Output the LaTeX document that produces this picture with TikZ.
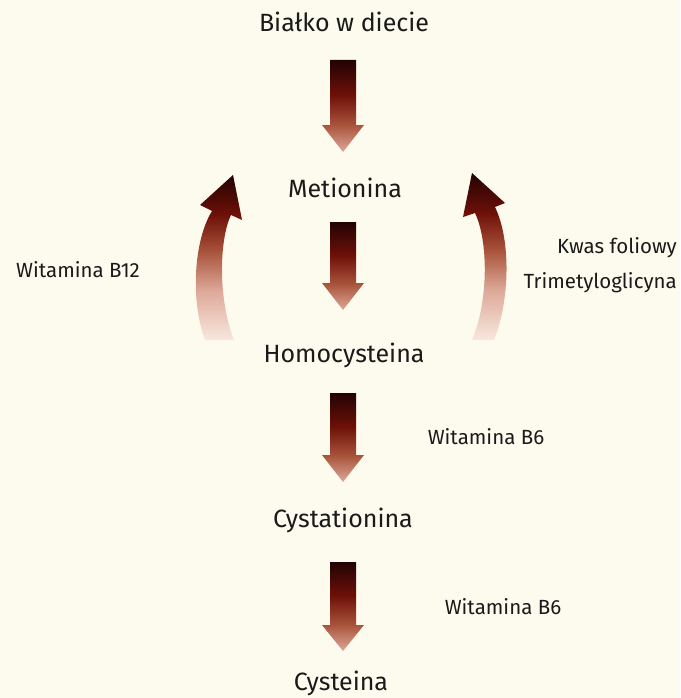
\documentclass[tikz,border=0pt]{standalone}
\usepackage{fontspec}
\setmainfont{Fira Sans}
\definecolor{bg}{HTML}{FDFBEE}
\definecolor{adark}{HTML}{220303}
\definecolor{amid}{HTML}{6E1008}
\definecolor{amid2}{HTML}{A8523A}
\definecolor{alight}{HTML}{DDA898}
\definecolor{afade}{HTML}{F8E8DE}
\definecolor{txt}{HTML}{1A1A1A}
\pgfdeclareverticalshading{arrsh}{100bp}{color(0bp)=(alight); color(25bp)=(alight); color(40bp)=(amid2); color(56bp)=(amid); color(75bp)=(adark); color(100bp)=(adark)}
\pgfdeclareverticalshading{curvsh}{100bp}{color(0bp)=(afade); color(25bp)=(afade); color(40bp)=(alight); color(52bp)=(amid2); color(63bp)=(amid); color(75bp)=(adark); color(100bp)=(adark)}
\tikzset{
  mainlbl/.style={font=\fontsize{25}{28}\selectfont, text=txt, inner sep=1pt},
  sidelbl/.style={font=\fontsize{20.5}{23}\selectfont, text=txt, inner sep=1pt},
  arrowfill/.style={shading=arrsh, draw=none},
  curvefill/.style={shading=curvsh, draw=none}
}
\newcommand\downarr[4]{%
  \shade[arrowfill] (#1-13,#2) -- (#1+13,#2) -- (#1+13,#3) -- (#1+21,#3) -- (#1,#4) -- (#1-21,#3) -- (#1-13,#3) -- cycle;}
\begin{document}
\begin{tikzpicture}[x=1pt,y=-1pt]
\fill[bg] (0,0) rectangle (680,698);
\useasboundingbox (0,0) rectangle (680,698);
% main labels
\node[mainlbl] (bialko) at (344,22) {Białko w diecie};
\node[mainlbl] (met) at (345,188) {Metionina};
\node[mainlbl] (homo) at (344,355) {Homocysteina};
\node[mainlbl] (cysta) at (343,520) {Cystationina};
\node[mainlbl] (cys) at (341,683) {Cysteina};
% side labels
\node[sidelbl] (b12) at (78,270) {Witamina B12};
\node[sidelbl, anchor=east] (kwas) at (678,248) {Kwas foliowy};
\node[sidelbl, anchor=east] (tri) at (678,283) {Trimetyloglicyna};
\node[sidelbl] (b6a) at (486,437) {Witamina B6};
\node[sidelbl] (b6b) at (503,607) {Witamina B6};
% straight arrows
\downarr{343}{60}{125}{152}
\downarr{343}{222}{283}{310}
\downarr{343}{393}{455}{482}
\downarr{343}{562}{625}{651}
% left curved arrow
\shade[curvefill] (205,340) .. controls (190,300) and (194,240) .. (212,211) -- (200,205) -- (233,175) -- (242,220) -- (231,215) .. controls (219,240) and (218,300) .. (234,340) -- cycle;
% right curved arrow
\shade[curvefill] (472,340) .. controls (489,300) and (488,240) .. (475,213) -- (463,217) -- (472,173) -- (505,203) -- (495,207) .. controls (511,240) and (510,300) .. (494,340) -- cycle;
\end{tikzpicture}
\end{document}
